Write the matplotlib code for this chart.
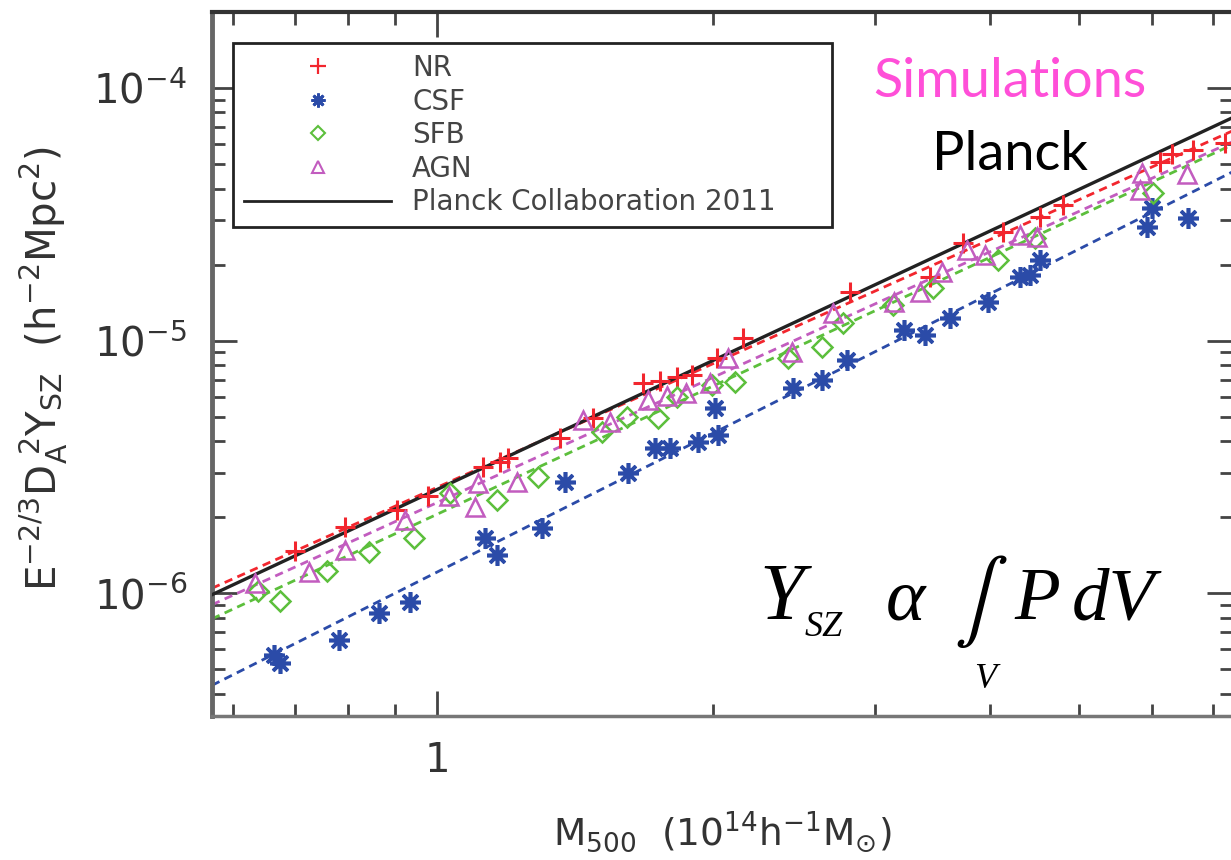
import numpy as np
import matplotlib
matplotlib.use("Agg")
import matplotlib.pyplot as plt
from matplotlib.lines import Line2D
from matplotlib.ticker import FixedLocator, NullFormatter, FixedFormatter

plt.rcParams['font.family'] = ['DejaVu Sans']

# M500 (1e14 h^-1 Msun) and E^-2/3 D_A^2 Y_SZ (h^-2 Mpc^2) for each run
nr_m = [0.700, 0.794, 0.905, 0.978, 1.122, 1.171, 1.195, 1.361, 1.479, 1.676, 1.750, 1.826,
        1.896, 2.018, 2.154, 2.818, 3.443, 3.741, 4.136, 4.539, 4.808, 6.133, 6.321, 6.660, 7.219]
nr_y = [1.466e-6, 1.825e-6, 2.132e-6, 2.422e-6, 3.155e-6, 3.303e-6, 3.424e-6, 4.111e-6,
        4.933e-6, 6.786e-6, 6.911e-6, 7.168e-6, 7.302e-6, 8.524e-6, 1.023e-5, 1.556e-5,
        1.784e-5, 2.433e-5, 2.690e-5, 3.084e-5, 3.441e-5, 5.091e-5, 5.478e-5, 5.682e-5, 6.056e-5]

csf_m = [0.664, 0.674, 0.782, 0.865, 0.934, 1.128, 1.162, 1.301, 1.378, 1.615, 1.728, 1.794,
         1.925, 2.023, 2.008, 2.442, 2.627, 2.797, 3.227, 3.401, 3.622, 3.983, 4.316, 4.426,
         4.539, 5.936, 6.011, 6.578]
csf_y = [5.68e-7, 5.28e-7, 6.51e-7, 8.33e-7, 9.21e-7, 1.651e-6, 1.414e-6, 1.809e-6, 2.752e-6,
         2.987e-6, 3.752e-6, 3.752e-6, 3.963e-6, 4.224e-6, 5.404e-6, 6.484e-6, 6.976e-6,
         8.372e-6, 1.100e-5, 1.051e-5, 1.228e-5, 1.421e-5, 1.784e-5, 1.817e-5, 2.084e-5,
         2.815e-5, 3.348e-5, 3.056e-5]

sfb_m = [0.638, 0.674, 0.759, 0.843, 0.944, 1.033, 1.162, 1.288, 1.512, 1.611, 1.741, 1.826,
         1.994, 2.112, 2.412, 2.627, 2.769, 3.139, 3.470, 4.084, 4.482, 6.026]
sfb_y = [1.018e-6, 9.30e-7, 1.222e-6, 1.453e-6, 1.651e-6, 2.489e-6, 2.335e-6, 2.880e-6,
         4.342e-6, 4.977e-6, 4.933e-6, 5.973e-6, 6.664e-6, 6.848e-6, 8.524e-6, 9.425e-6,
         1.173e-5, 1.382e-5, 1.614e-5, 2.084e-5, 2.547e-5, 3.839e-5]

agn_m = [0.633, 0.725, 0.794, 0.923, 1.031, 1.100, 1.108, 1.222, 1.442, 1.543, 1.697, 1.780,
         1.867, 1.984, 2.075, 2.436, 2.700, 3.147, 3.358, 3.549, 3.779, 3.954, 4.316, 4.504,
         5.833, 5.861, 6.561]
agn_y = [1.095e-6, 1.211e-6, 1.480e-6, 1.946e-6, 2.422e-6, 2.191e-6, 2.726e-6, 2.752e-6,
         4.843e-6, 4.756e-6, 5.812e-6, 6.028e-6, 6.195e-6, 6.786e-6, 8.524e-6, 9.005e-6,
         1.285e-5, 1.421e-5, 1.556e-5, 1.867e-5, 2.282e-5, 2.181e-5, 2.617e-5, 2.570e-5,
         3.945e-5, 4.607e-5, 4.565e-5]

# power-law fits  Y = norm * M^slope
fit_names = ['NR', 'CSF', 'SFB', 'AGN', 'Planck']
fit_norm = [2.62e-6, 1.21e-6, 2.05e-6, 2.28e-6, 2.57e-6]
fit_slope = [1.63, 1.83, 1.69, 1.65, 1.70]

red, blue, green, mag = '#f2262e', '#2b4ba8', '#5cbf3c', '#c25cbf'

W, H = 1231, 860
fig = plt.figure(figsize=(W / 100, H / 100), dpi=100)
ax = fig.add_axes([212 / W, 1 - 716 / H, 1020 / W, 704 / H])
ax.set_xscale('log')
ax.set_yscale('log')
xlo, xhi = 0.569, 7.34
ax.set_xlim(xlo, xhi)
ax.set_ylim(3.26e-7, 2.0e-4)

mx = np.logspace(np.log10(xlo), np.log10(xhi), 50)
fit_cols = [red, blue, green, mag, 'black']
for nm, a, b, c in zip(fit_names, fit_norm, fit_slope, fit_cols):
    if nm == 'Planck':
        ax.plot(mx, a * mx ** b, color='#222222', lw=2.4, zorder=3)
    else:
        ax.plot(mx, a * mx ** b, color=c, lw=2, ls=(0, (3, 2)), zorder=2)

ax.plot(nr_m, nr_y, ls='none', marker='+', ms=14, mew=2.2, color=red, zorder=4)
ax.plot(csf_m, csf_y, ls='none', marker=(8, 2, 0), ms=15, mew=2.6, color=blue, zorder=4)
ax.plot(sfb_m, sfb_y, ls='none', marker='D', ms=10, mew=1.8, mfc='none', mec=green, zorder=4)
ax.plot(agn_m, agn_y, ls='none', marker='^', ms=13, mew=1.8, mfc='none', mec=mag, zorder=4)

# ticks
ax.xaxis.set_major_locator(FixedLocator([1]))
ax.xaxis.set_major_formatter(FixedFormatter(['1']))
ax.xaxis.set_minor_locator(FixedLocator([0.6, 0.7, 0.8, 0.9, 2, 3, 4, 5, 6, 7]))
ax.xaxis.set_minor_formatter(NullFormatter())
ax.tick_params(which='both', direction='in', top=True, right=True, colors='#444444',
               labelcolor='#333333', labelsize=29, width=2)
ax.tick_params(which='major', length=18, pad=18)
ax.tick_params(which='minor', length=9)
for side, lw, col in [('left', 3.5, '#666666'), ('bottom', 2.5, '#777777'),
                      ('top', 3, '#333333'), ('right', 2.5, '#555555')]:
    ax.spines[side].set_linewidth(lw)
    ax.spines[side].set_color(col)

fig.text(44 / W, 1 - 368 / H,
         r'$\mathregular{E^{-2/3}D_A^{\ 2}Y_{SZ}\ \ (h^{-2}Mpc^2)}$',
         rotation=90, ha='center', va='center', fontsize=29, color='#333333')
fig.text(722 / W, 1 - 832 / H,
         r'$\mathregular{M_{500}\ \ (10^{14}h^{-1}M_{\odot})}$',
         ha='center', va='center', fontsize=27, color='#333333')

# legend
handles = [
    Line2D([], [], ls='none', marker='+', ms=11, mew=1.6, color=red),
    Line2D([], [], ls='none', marker=(8, 2, 0), ms=10, mew=2, color=blue),
    Line2D([], [], ls='none', marker='D', ms=7, mew=1.5, mfc='none', mec=green),
    Line2D([], [], ls='none', marker='^', ms=9, mew=1.5, mfc='none', mec=mag),
    Line2D([], [], color='#222222', lw=2),
]
leg = ax.legend(handles, ['NR', 'CSF', 'SFB', 'AGN', 'Planck Collaboration 2011'],
                loc='upper left', bbox_to_anchor=(21 / 1020, 1 - 31 / 704, 599 / 1020, 0),
                mode='expand', borderaxespad=0, fontsize=20, handlelength=5.3,
                handletextpad=0.75, labelspacing=0.2, borderpad=0.4, fancybox=False,
                framealpha=1, labelcolor='#444444')
leg.get_frame().set_edgecolor('#222222')
leg.get_frame().set_linewidth(2)

fig.text(873 / W, 1 - 97 / H, 'Simulations', color='#ff4fd8', fontsize=39,
         family='Lato', ha='left', va='baseline')
fig.text(932 / W, 1 - 170 / H, 'Planck', color='black', fontsize=39,
         family='Lato', ha='left', va='baseline')

# Y_SZ ~ integral of pressure over the volume
serif = dict(family='Liberation Serif', style='italic', color='black', va='baseline')
fig.text(759 / W, 1 - 619 / H, 'Y', fontsize=58, ha='left', **serif)
fig.text(805 / W, 1 - 636 / H, 'SZ', fontsize=26, ha='left', **serif)
fig.text(886 / W, 1 - 619 / H, 'α', fontsize=54, ha='left', **serif)
fig.text(981 / W, 1 - 602 / H, r'$\int$', fontsize=58, math_fontfamily='stix',
         ha='center', va='center', color='black')
fig.text(985 / W, 1 - 688 / H, 'V', fontsize=26, ha='center', **serif)
fig.text(1014 / W, 1 - 619 / H, 'P', fontsize=54, ha='left', **serif)
fig.text(1072 / W, 1 - 619 / H, 'dV', fontsize=54, ha='left', **serif)

fig.savefig('out.png', dpi=100)
